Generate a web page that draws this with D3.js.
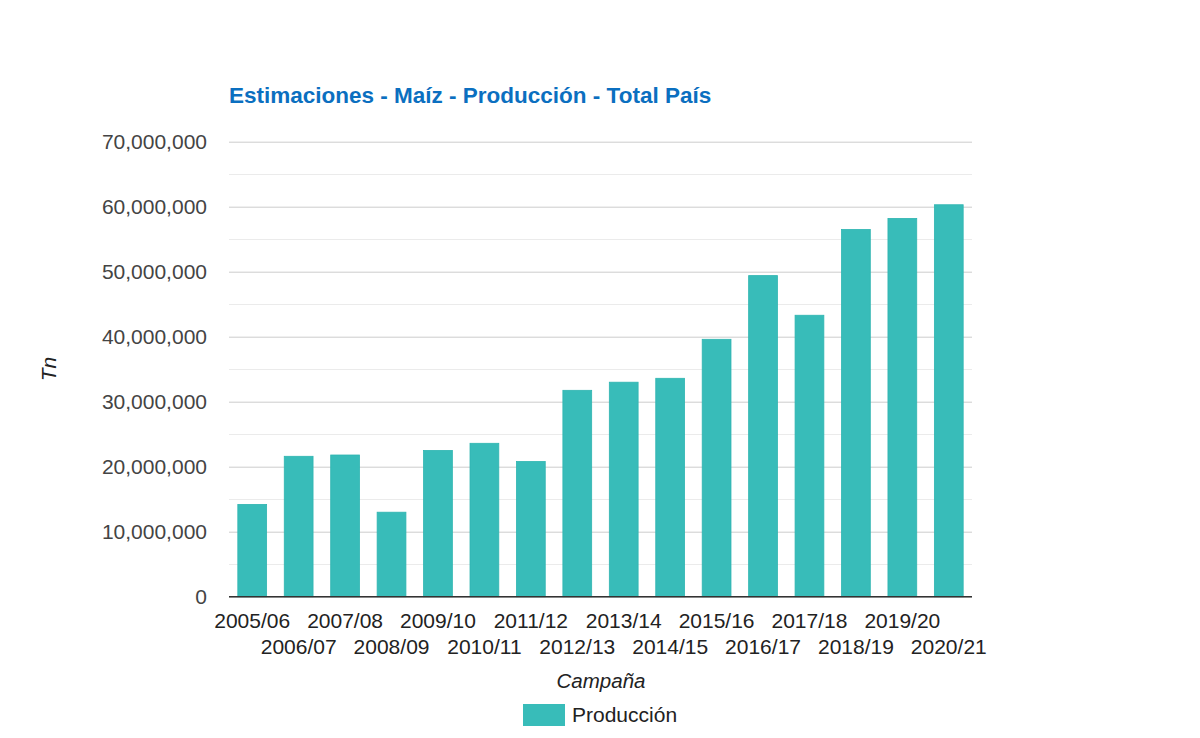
<!DOCTYPE html>
<html>
<head>
<meta charset="utf-8">
<script src="https://cdn.jsdelivr.net/npm/d3@7"></script>
<style>
  body { margin: 0; background: #fff; }
  text { font-family: Arial, "Liberation Sans", sans-serif; }
</style>
</head>
<body>
<div class="canvas"></div>
<script>
var width = 1200,
	height = 738;

// data
var campanas = ["2005/06", "2006/07", "2007/08", "2008/09", "2009/10", "2010/11", "2011/12", "2012/13",
	"2013/14", "2014/15", "2015/16", "2016/17", "2017/18", "2018/19", "2019/20", "2020/21"];
var produccion = [14200000, 21600000, 21800000, 13000000, 22500000, 23600000, 20800000, 31750000,
	33000000, 33600000, 39600000, 49400000, 43300000, 56500000, 58200000, 60300000];
var yTicks = [0, 10000000, 20000000, 30000000, 40000000, 50000000, 60000000, 70000000];

var plotLeft = 229, plotRight = 972, plotTop = 141.7, plotBottom = 596.7;

var svg = d3.select(".canvas")
	.append("svg")
	.attr("width", width)
	.attr("height", height);

var x = d3.scaleBand()
	.domain(campanas)
	.range([plotLeft, plotRight])
	.paddingInner(0.38)
	.paddingOuter(0.19);

var y = d3.scaleLinear()
	.domain([0, 70000000])
	.range([plotBottom, plotTop]);

/* ---------- grid ---------- */
// minor lines halfway between majors
var minor = d3.range(5000000, 70000000, 10000000);
svg.append("g").selectAll("line")
	.data(minor)
	.enter().append("line")
	.attr("x1", plotLeft).attr("x2", plotRight)
	.attr("y1", d => Math.round(y(d)) + 0.5)
	.attr("y2", d => Math.round(y(d)) + 0.5)
	.attr("stroke", "#ebebeb");

var yAxis = svg.append("g")
	.attr("transform", "translate(" + plotLeft + ",0)")
	.call(d3.axisLeft(y).tickValues(yTicks).tickSize(-(plotRight - plotLeft)).tickPadding(22).tickFormat(d3.format(",")));
yAxis.select(".domain").remove();
yAxis.selectAll(".tick line").attr("stroke", "#cccccc");
yAxis.selectAll(".tick text")
	.attr("font-size", 21)
	.attr("fill", "#444");

/* ---------- bars ---------- */
svg.append("g").selectAll("rect")
	.data(produccion)
	.enter().append("rect")
	.attr("x", (d, i) => x(campanas[i]))
	.attr("y", d => y(d))
	.attr("width", x.bandwidth())
	.attr("height", d => plotBottom - y(d))
	.attr("fill", "#38bcb9")
	.attr("stroke", "#2fb5b1")
	.attr("stroke-width", 0.8);

// baseline
svg.append("line")
	.attr("x1", plotLeft).attr("x2", plotRight)
	.attr("y1", plotBottom).attr("y2", plotBottom)
	.attr("stroke", "#333")
	.attr("stroke-width", 1.5);

/* ---------- x labels, two rows ---------- */
var xAxis = svg.append("g")
	.attr("transform", "translate(0," + plotBottom + ")")
	.call(d3.axisBottom(x).tickSize(0).tickPadding(0));
xAxis.select(".domain").remove();
xAxis.selectAll(".tick text")
	.attr("font-size", 21)
	.attr("fill", "#222")
	.attr("dy", null)
	.attr("y", (d, i) => i % 2 === 0 ? 31 : 57);

/* ---------- titles ---------- */
svg.append("text")
	.attr("x", 229)
	.attr("y", 103)
	.text("Estimaciones - Maíz - Producción - Total País")
	.attr("font-size", 22.5)
	.attr("font-weight", "bold")
	.attr("fill", "#0b6fc0");

svg.append("text")
	.attr("transform", "translate(56,369) rotate(-90)")
	.attr("text-anchor", "middle")
	.attr("font-size", 21)
	.attr("font-style", "italic")
	.attr("fill", "#222")
	.text("Tn");

svg.append("text")
	.attr("x", 601)
	.attr("y", 688)
	.attr("text-anchor", "middle")
	.attr("font-size", 20.5)
	.attr("font-style", "italic")
	.attr("fill", "#222")
	.text("Campaña");

/* ---------- legend ---------- */
svg.append("rect")
	.attr("x", 523).attr("y", 704)
	.attr("width", 42).attr("height", 22)
	.attr("fill", "#38bcb9");
svg.append("text")
	.attr("x", 572)
	.attr("y", 722)
	.attr("font-size", 21)
	.attr("fill", "#222")
	.text("Producción");
</script>
</body>
</html>
